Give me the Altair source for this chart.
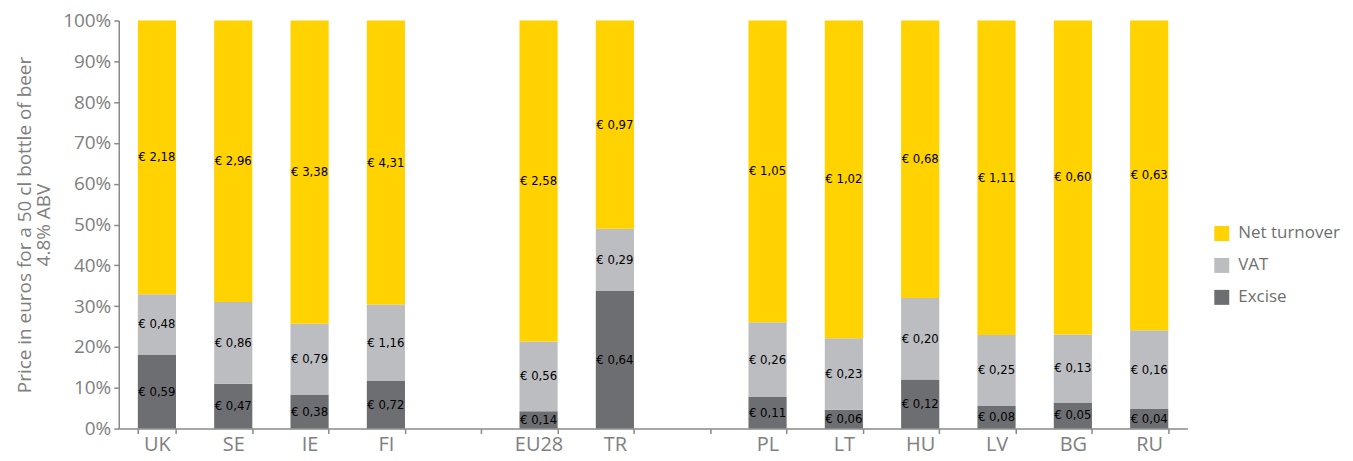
import altair as alt
import pandas as pd

# x slots (two empty gap slots)
slots = ["UK", "SE", "IE", "FI", " ", "EU28", "TR", "  ", "PL", "LT", "HU", "LV", "BG", "RU"]
countries = ["UK", "SE", "IE", "FI", "EU28", "TR", "PL", "LT", "HU", "LV", "BG", "RU"]
excise = [0.59, 0.47, 0.38, 0.72, 0.14, 0.64, 0.11, 0.06, 0.12, 0.08, 0.05, 0.04]
vat = [0.48, 0.86, 0.79, 1.16, 0.56, 0.29, 0.26, 0.23, 0.20, 0.25, 0.13, 0.16]
net_turnover = [2.18, 2.96, 3.38, 4.31, 2.58, 0.97, 1.05, 1.02, 0.68, 1.11, 0.60, 0.63]

legend_order = ["Net turnover", "VAT", "Excise"]
legend_colors = ["#FFD200", "#BCBDC0", "#6D6E71"]

rows = []
for i, c in enumerate(countries):
    for k, (name, vals) in enumerate([("Excise", excise), ("VAT", vat), ("Net turnover", net_turnover)]):
        v = vals[i]
        rows.append({"country": c, "component": name, "ord": k, "value": v,
                     "label": "€ " + f"{v:.2f}".replace(".", ",")})
df = pd.DataFrame(rows)

GRAY = "#808080"
AXIS_GRAY = "#8a8a8a"

base = alt.Chart(df).transform_stack(
    stack="value", groupby=["country"], sort=[alt.SortField("ord", order="ascending")],
    as_=["y0", "y1"], offset="normalize"
).transform_calculate(mid="(datum.y0 + datum.y1) / 2")

x_enc = alt.X("country:N", sort=slots,
              scale=alt.Scale(domain=slots, paddingInner=0.5, paddingOuter=0.25),
              axis=alt.Axis(title=None, labelAngle=0, labelFontSize=20, labelColor=GRAY,
                            labelFont="Open Sans", labelPadding=1,
                            tickBand="extent", tickSize=5, tickColor=AXIS_GRAY,
                            domainColor=AXIS_GRAY, domainWidth=1.5, tickWidth=1.5))

bars = base.mark_bar().encode(
    x=x_enc,
    y=alt.Y("y0:Q", scale=alt.Scale(domain=[0, 1], nice=False),
            axis=alt.Axis(format="%", values=[i / 10 for i in range(11)], grid=False,
                          title=["Price in euros for a 50 cl bottle of beer", "4.8% ABV"],
                          titleFontSize=19, titleColor=GRAY, titleFont="Open Sans",
                          titleFontWeight="normal", titlePadding=9, titleLineHeight=19,
                          labelFontSize=19, labelColor=GRAY, labelFont="Open Sans",
                          labelPadding=3, tickSize=5, tickColor=AXIS_GRAY, tickWidth=1.5,
                          domainColor=AXIS_GRAY, domainWidth=1.5)),
    y2="y1:Q",
    color=alt.Color("component:N",
                    scale=alt.Scale(domain=legend_order, range=legend_colors),
                    legend=alt.Legend(title=None, orient="none", legendX=1097, legendY=205,
                                      symbolType="square", symbolSize=225,
                                      symbolStrokeWidth=0,
                                      labelFontSize=17, labelColor="#6f6f6f",
                                      labelFont="Open Sans", rowPadding=14,
                                      labelOffset=8)),
)

texts = base.mark_text(fontSize=13, color="black",
                       font="Liberation Sans Narrow, DejaVu Sans Condensed, sans-serif").encode(
    x=alt.X("country:N", sort=slots),
    y=alt.Y("mid:Q"),
    text="label:N",
)

chart = alt.layer(bars, texts).properties(
    width=1071, height=409,
    padding={"left": 7, "top": 3, "right": 5, "bottom": 5},
).configure_view(stroke=None)

chart.save("out.html", embed_options={"renderer": "svg", "actions": False})
